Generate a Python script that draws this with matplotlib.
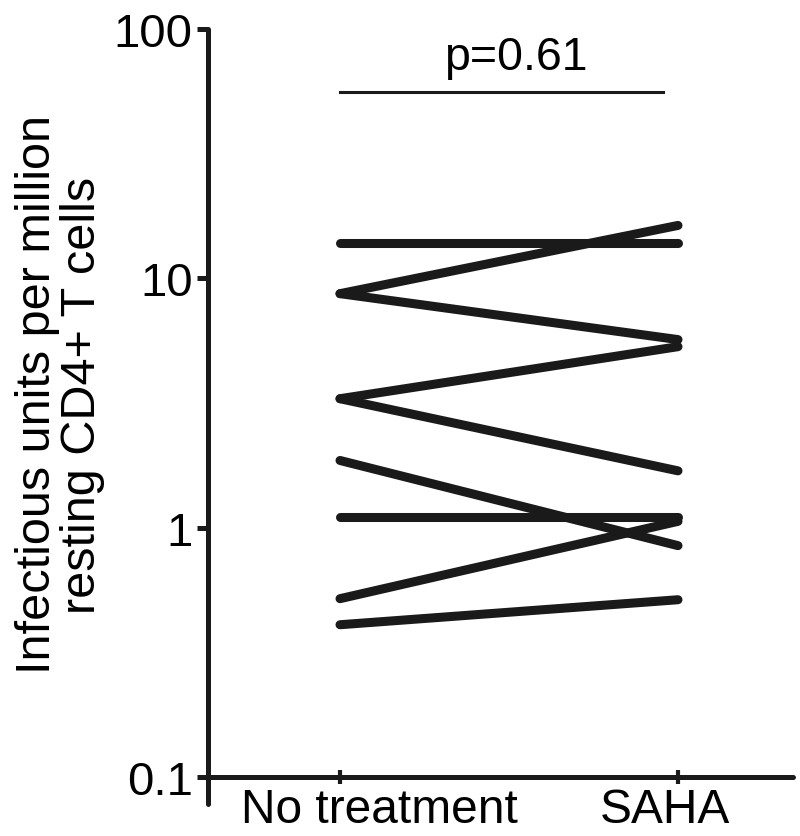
import matplotlib
matplotlib.use("Agg")
import matplotlib.pyplot as plt
from matplotlib.transforms import ScaledTranslation

plt.rcParams['font.family'] = ['Liberation Sans', 'DejaVu Sans']

categories = ["No treatment", "SAHA"]
no_treatment = [13.8, 8.68, 8.68, 3.29, 3.29, 1.86, 1.10, 0.519, 0.408]
saha = [13.8, 16.3, 5.68, 5.32, 1.69, 0.847, 1.10, 1.06, 0.514]
yticks = [0.1, 1, 10, 100]
ytick_labels = ["0.1", "1", "10", "100"]
p_text = "p=0.61"

color = "#1a1a1a"
fig = plt.figure(figsize=(8, 8.37), dpi=100)
ax = fig.add_axes([208/800, 59/837, 585/800, 748/837])

x = [0, 1]
for a, b in zip(no_treatment, saha):
    ax.plot(x, [a, b], color=color, lw=6.5, solid_capstyle='round', clip_on=False)

ax.set_yscale('log')
ax.set_ylim(0.1, 100)
ax.set_xlim(-0.3905, 1.3402)
ax.set_yticks(yticks)
ax.set_yticklabels(ytick_labels)
ax.minorticks_off()
ax.set_xticks(x)
ax.set_xticklabels(categories)

for s in ['top', 'right']:
    ax.spines[s].set_visible(False)
for s in ['left', 'bottom']:
    ax.spines[s].set_linewidth(3.6)
    ax.spines[s].set_color(color)
    ax.spines[s].set_capstyle('round')
ax.spines['left'].set_bounds(0.078, 100)
ax.spines['bottom'].set_bounds(-0.414, 1.34)

ax.tick_params(axis='y', which='major', direction='out', length=8, width=3.6,
               color=color, labelsize=34, pad=3, labelcolor='black')
ax.tick_params(axis='x', which='major', direction='inout', length=10, width=3,
               color=color, labelsize=34.5, pad=2, labelcolor='black')

# horizontal offsets of the category labels (pixels -> inches)
offsets_px = [39, -13]
for lab, dx in zip(ax.get_xticklabels(), offsets_px):
    lab.set_transform(lab.get_transform() + ScaledTranslation(dx / 100, 0, fig.dpi_scale_trans))

# significance bar
ax.plot([0.0, 0.955], [56.1, 56.1], color=color, lw=2.2, clip_on=False)
ax.text(0.52, 69.4, p_text, ha='center', va='baseline', fontsize=33.5, color='black')

fig.text(60/800, 1 - 395/837, "Infectious units per million\nresting CD4+ T cells",
         rotation=90, ha='center', va='center', fontsize=35, multialignment='center',
         linespacing=1.0)

fig.savefig("out.png", dpi=100, facecolor='white')
